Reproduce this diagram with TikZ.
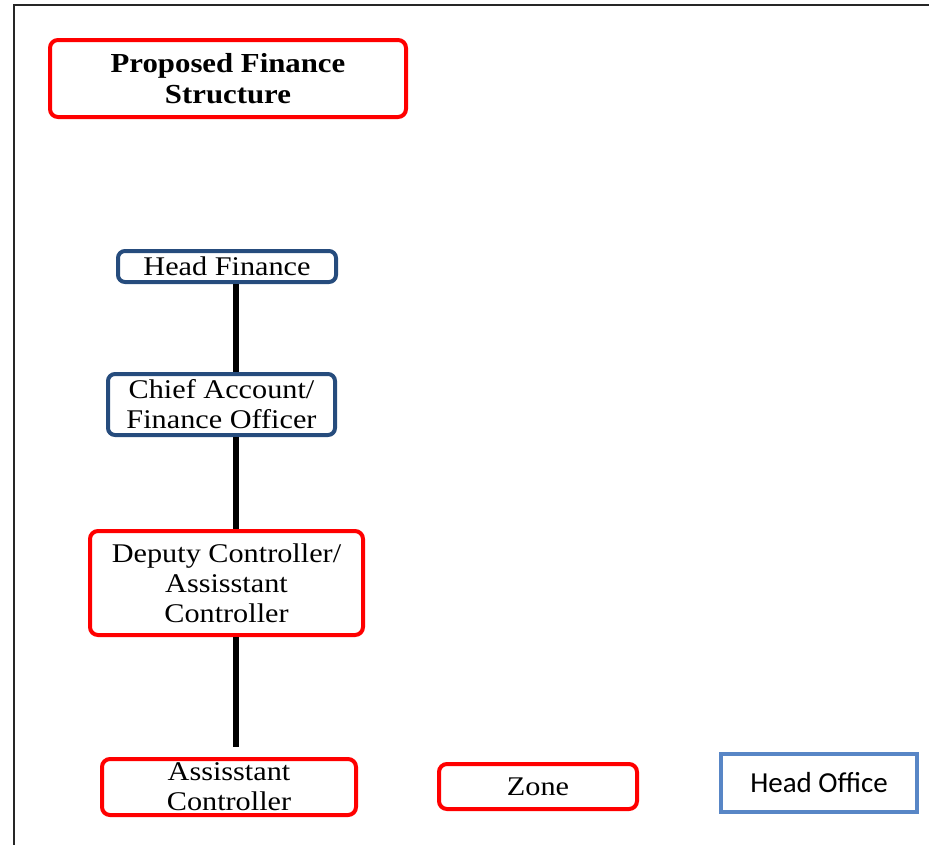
\documentclass[tikz,border=0pt]{standalone}
\usepackage{fontspec}
\setmainfont[FakeStretch=1.12]{Liberation Serif}
\newfontfamily\calibrifont{Carlito}
\begin{document}
\begin{tikzpicture}[x=1pt,y=-1pt,
  redbox/.style={draw=redline,line width=4pt,rounded corners=8pt,align=center,
    inner sep=0pt,font=\fontsize{27}{30}\selectfont},
  bluebox/.style={draw=navyline,line width=4pt,rounded corners=7pt,align=center,
    inner sep=0pt,font=\fontsize{27}{30}\selectfont},
  plainbox/.style={draw=lightblue,line width=4.5pt,align=center,inner sep=0pt,
    font=\calibrifont\fontsize{29}{32}\selectfont},
  spine/.style={line width=6pt,black}]
\definecolor{redline}{RGB}{255,0,0}
\definecolor{navyline}{RGB}{38,76,125}
\definecolor{lightblue}{RGB}{88,134,198}
\useasboundingbox (0,0) rectangle (929,844);
% page frame
\draw[line width=2.5pt,black!85] (14,845) -- (14,5) -- (930,5);
% title
\node[redbox,minimum width=356,minimum height=77,font=\bfseries\fontsize{27.5}{31}\selectfont]
  (title) at (228,78.5) {Proposed Finance\\Structure};
% hierarchy
\node[bluebox,minimum width=218,minimum height=31] (hf) at (227,266.5) {Head Finance};
\node[bluebox,minimum width=227,minimum height=61] (cafo) at (221.5,404.5) {Chief Account/\\Finance Officer};
\node[redbox,minimum width=273,minimum height=104] (dc) at (226.5,583) {Deputy Controller/\\Assisstant\\Controller};
\node[redbox,minimum width=254,minimum height=56] (ac) at (229,787) {Assisstant\\Controller};
\node[redbox,minimum width=198,minimum height=45] (zone) at (538,786.5) {Zone};
\node[plainbox,minimum width=196,minimum height=58] (ho) at (819,783) {Head Office};
% connectors
\coordinate (axis) at (236,0);
\coordinate (stub) at (236,747);
\draw[spine] (axis |- hf.south) -- (axis |- cafo.north);
\draw[spine] (axis |- cafo.south) -- (axis |- dc.north);
\draw[spine] (axis |- dc.south) -- (stub);
\end{tikzpicture}
\end{document}
